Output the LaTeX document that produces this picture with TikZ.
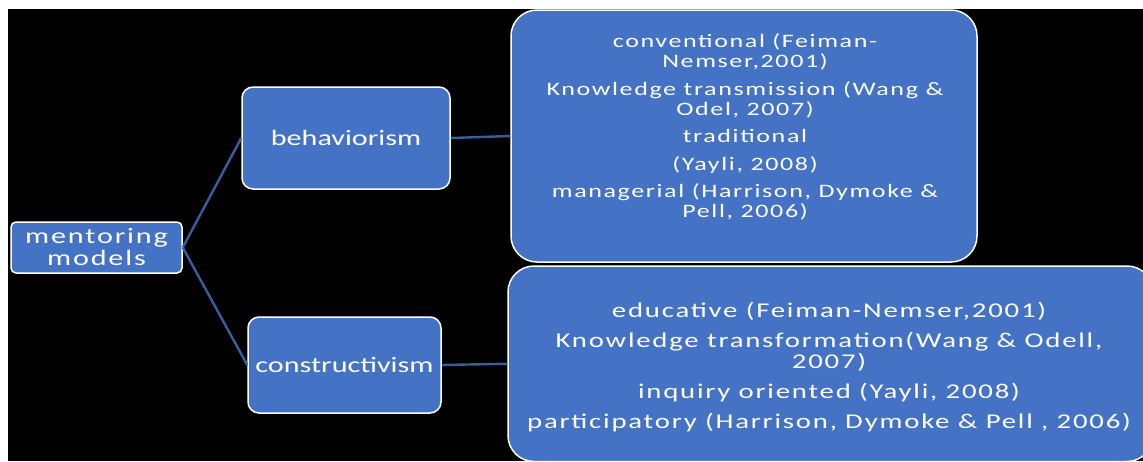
\documentclass[tikz,border=0pt]{standalone}
\usepackage{fontspec}
\setmainfont{Carlito}[FakeStretch=1.37]
\newfontfamily\detailfont{Carlito}[FakeStretch=1.37,LetterSpace=8.5]
\begin{document}
\begin{tikzpicture}[x=1pt,y=-1pt,
  box/.style={draw=white,line width=1.5pt,fill=boxblue,text=white,inner sep=0pt},
  link/.style={draw=linkblue,line width=2.4pt},
  txt/.style={text=white,align=center,inner sep=0pt}]
\definecolor{boxblue}{RGB}{68,114,196}
\definecolor{linkblue}{RGB}{56,94,160}
\useasboundingbox (0,0) rectangle (1143,461);
\fill[white] (0,0) rectangle (1143,461);
\fill[black] (8,9) rectangle (1143,461);

% root and the two branches
\node[box,rounded corners=5pt,minimum width=171pt,minimum height=51pt,
      align=center,font=\detailfont\fontsize{22}{22}\selectfont] (mm) at (96.5,247.5) {mentoring\\models};
\node[box,rounded corners=11pt,minimum width=208pt,minimum height=102pt,
      font=\fontsize{22}{24}\selectfont] (beh) at (346,138) {behaviorism};
\node[box,rounded corners=11pt,minimum width=193pt,minimum height=96pt,
      font=\fontsize{22}{24}\selectfont] (con) at (344.5,365) {constructivism};

% detail boxes
\node[box,rounded corners=26pt,minimum width=466pt,minimum height=252pt] (tr) at (744,136) {};
\node[box,rounded corners=26pt,minimum width=645pt,minimum height=195.5pt] (br) at (830.5,363.75) {};

\node[txt,font=\detailfont\fontsize{19}{20}\selectfont] (trtext) at (745,127)
  {conventional (Feiman-\\Nemser,2001)\\[7.5pt]
   Knowledge transmission (Wang \&\\Odel, 2007)\\[7.5pt]
   traditional\\[7.5pt]
   (Yayli, 2008)\\[7.5pt]
   managerial (Harrison, Dymoke \&\\Pell, 2006)};
\node[txt,font=\detailfont\fontsize{21}{21}\selectfont] (brtext) at (829,367)
  {educative (Feiman-Nemser,2001)\\[9pt]
   Knowledge transformation(Wang \& Odell,\\2007)\\[9pt]
   inquiry oriented (Yayli, 2008)\\[9pt]
   participatory (Harrison, Dymoke \& Pell , 2006)};

% connectors
\draw[link] (mm.east) -- (beh.west);
\draw[link] (mm.east) -- (con.west);
\draw[link] (beh.east) -- (tr.west);
\draw[link] (con.east) -- (br.west);
\end{tikzpicture}
\end{document}
